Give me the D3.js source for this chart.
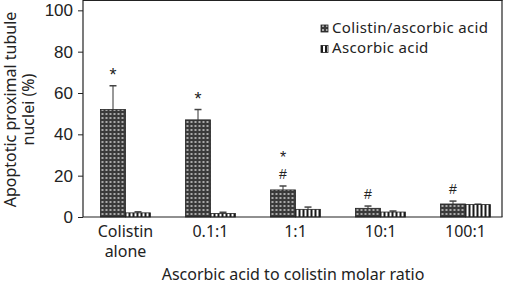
<!DOCTYPE html>
<html>
<head>
<meta charset="utf-8">
<script src="https://cdn.jsdelivr.net/npm/d3@7"></script>
<style>
    body { margin: 0; background: #fff; }
    svg { display: block; font-family: "Noto Sans", sans-serif; }
</style>
</head>
<body>
<div id="chart"></div>
<script>
// カテゴリ（アスコルビン酸：コリスチンのモル比）
const categories = ['Colistin alone', '0.1:1', '1:1', '10:1', '100:1'];
const seriesNames = ['Colistin/ascorbic acid', 'Ascorbic acid'];

// 平均値と誤差（SD）
const colistinAscorbic = [52, 47, 13.1, 4.2, 6.3];
const colistinAscorbicErr = [11.5, 5, 1.9, 1.1, 1.4];
const ascorbicOnly = [2, 1.7, 3.7, 2.4, 6];
const ascorbicOnlyErr = [0.5, 0.6, 1.1, 0.5, 0.2];

// 有意差マーク（下から順に）
const marks = [['*'], ['*'], ['#', '*'], ['#'], ['#']];

const yTicks = [0, 20, 40, 60, 80, 100];

const W = 507, H = 285;
const margin = { top: 0, right: 0, bottom: 68, left: 83 };
const frameRight = 502;

const svg = d3.select('#chart').append('svg')
    .attr('width', W)
    .attr('height', H);

// パターン定義
const defs = svg.append('defs');
const dots = defs.append('pattern')
    .attr('id', 'pat-dots')
    .attr('patternUnits', 'userSpaceOnUse')
    .attr('width', 4).attr('height', 4);
dots.append('rect').attr('width', 4).attr('height', 4).attr('fill', '#3a3a3a');
dots.append('rect').attr('x', 1).attr('y', 1).attr('width', 2).attr('height', 2).attr('fill', '#aaaaaa');

const stripes = defs.append('pattern')
    .attr('id', 'pat-stripes')
    .attr('patternUnits', 'userSpaceOnUse')
    .attr('width', 4).attr('height', 4);
stripes.append('rect').attr('width', 4).attr('height', 4).attr('fill', '#fff');
stripes.append('rect').attr('width', 2).attr('height', 4).attr('fill', '#1a1a1a');

const fills = ['url(#pat-dots)', 'url(#pat-stripes)'];

// スケール
const x = d3.scaleBand()
    .domain(categories)
    .range([margin.left, 508]);

const xSub = d3.scaleBand()
    .domain(seriesNames)
    .range([0, 50]);

const y = d3.scaleLinear()
    .domain([0, 105])
    .range([H - margin.bottom, 0]);

const rows = categories.map((c, i) => ({
    cat: c,
    values: [
        { s: seriesNames[0], v: colistinAscorbic[i], e: colistinAscorbicErr[i] },
        { s: seriesNames[1], v: ascorbicOnly[i], e: ascorbicOnlyErr[i] }
    ],
    marks: marks[i]
}));

// 枠線（上・右）
svg.append('line')
    .attr('x1', margin.left).attr('x2', frameRight + 0.5)
    .attr('y1', 0.5).attr('y2', 0.5)
    .attr('stroke', '#222').attr('stroke-width', 1.2);
svg.append('line')
    .attr('x1', frameRight).attr('x2', frameRight)
    .attr('y1', 0).attr('y2', y(0))
    .attr('stroke', '#222').attr('stroke-width', 1.2);

// バー
const groups = svg.selectAll('.group')
    .data(rows)
    .enter()
    .append('g')
    .attr('class', 'group')
    .attr('transform', d => `translate(${x(d.cat) + x.bandwidth() / 2 - 25},0)`);

// 誤差棒
groups.selectAll('.err')
    .data(d => d.values)
    .enter()
    .append('g')
    .each(function(d) {
        const g = d3.select(this);
        const cx = xSub(d.s) + xSub.bandwidth() / 2;
        g.append('line')
            .attr('x1', cx).attr('x2', cx)
            .attr('y1', y(d.v)).attr('y2', y(d.v + d.e))
            .attr('stroke', '#333').attr('stroke-width', 1);
        g.append('line')
            .attr('x1', cx - 3.5).attr('x2', cx + 3.5)
            .attr('y1', y(d.v + d.e)).attr('y2', y(d.v + d.e))
            .attr('stroke', '#444').attr('stroke-width', 1.5);
    });

groups.selectAll('.bar')
    .data(d => d.values)
    .enter()
    .append('rect')
    .attr('class', 'bar')
    .attr('x', d => xSub(d.s))
    .attr('y', d => y(d.v))
    .attr('width', xSub.bandwidth())
    .attr('height', d => y(0) - y(d.v))
    .attr('fill', (d, i) => fills[i])
    .attr('stroke', '#222')
    .attr('stroke-width', 0.8);

// 有意差マーク（# の上に * を重ねる）
groups.each(function(d) {
    const g = d3.select(this);
    const top = d.values[0];
    const cx = xSub(top.s) + xSub.bandwidth() / 2;
    let base = y(top.v + top.e);
    d.marks.forEach((m, j) => {
        let by, size;
        if (m === '#') {
            by = base - 7;
            size = 14;
        } else if (j === 0) {
            by = base - 4.7;
            size = 18;
        } else {
            by = base - 16.5;
            size = 16;
        }
        g.append('text')
            .attr('x', cx)
            .attr('y', by)
            .attr('text-anchor', 'middle')
            .attr('fill', '#222')
            .style('font-family', '"Liberation Sans", sans-serif')
            .style('font-size', size + 'px')
            .text(m);
        base = by;
    });
});

// X軸
svg.append('line')
    .attr('x1', margin.left).attr('x2', frameRight + 0.5)
    .attr('y1', y(0)).attr('y2', y(0))
    .attr('stroke', '#222').attr('stroke-width', 1.2);

const xLabels = svg.selectAll('.x-label')
    .data(categories)
    .enter()
    .append('text')
    .attr('class', 'x-label')
    .attr('text-anchor', 'middle')
    .attr('fill', '#222')
    .style('font-size', '16px');
xLabels.each(function(d) {
    const words = d === 'Colistin alone' ? ['Colistin', 'alone'] : [d];
    const t = d3.select(this);
    words.forEach((w, i) => {
        t.append('tspan')
            .attr('x', x(d) + x.bandwidth() / 2)
            .attr('y', 237 + i * 20)
            .text(w);
    });
});

svg.append('text')
    .attr('x', 293)
    .attr('y', 280)
    .attr('text-anchor', 'middle')
    .attr('fill', '#222')
    .style('font-size', '16px')
    .text('Ascorbic acid to colistin molar ratio');

// Y軸
const yAxis = d3.axisLeft(y)
    .tickValues(yTicks)
    .tickSize(5)
    .tickPadding(5);

const yg = svg.append('g')
    .attr('transform', `translate(${margin.left},0)`)
    .call(yAxis);
yg.select('.domain').remove();
yg.append('line')
    .attr('x1', 0).attr('x2', 0)
    .attr('y1', 0).attr('y2', y(0))
    .attr('stroke', '#222').attr('stroke-width', 1.2);
yg.selectAll('.tick line').attr('stroke', '#222');
yg.selectAll('.tick text')
    .attr('fill', '#222')
    .attr('font-size', 17)
    .attr('font-family', '"Liberation Sans", sans-serif');

const yTitle = svg.append('text')
    .attr('transform', `translate(0,${y(52)}) rotate(-90)`)
    .attr('text-anchor', 'middle')
    .attr('fill', '#222')
    .style('font-size', '16px');
yTitle.append('tspan').attr('x', 0).attr('y', 16).text('Apoptotic proximal tubule');
yTitle.append('tspan').attr('x', 0).attr('y', 34).text('nuclei (%)');

// 凡例
const legend = svg.append('g')
    .attr('transform', 'translate(321,28)');
seriesNames.forEach((name, i) => {
    const item = legend.append('g')
        .attr('transform', `translate(0,${i * 20.5})`);
    item.append('rect')
        .attr('x', 0).attr('y', -3)
        .attr('width', 7).attr('height', 7)
        .attr('fill', fills[i])
        .attr('stroke', '#222')
        .attr('stroke-width', 0.8);
    item.append('text')
        .attr('x', 11)
        .attr('y', 4.5)
        .attr('fill', '#222')
        .style('font-size', '15px')
        .style('letter-spacing', '0.35px')
        .text(name);
});
</script>
</body>
</html>
